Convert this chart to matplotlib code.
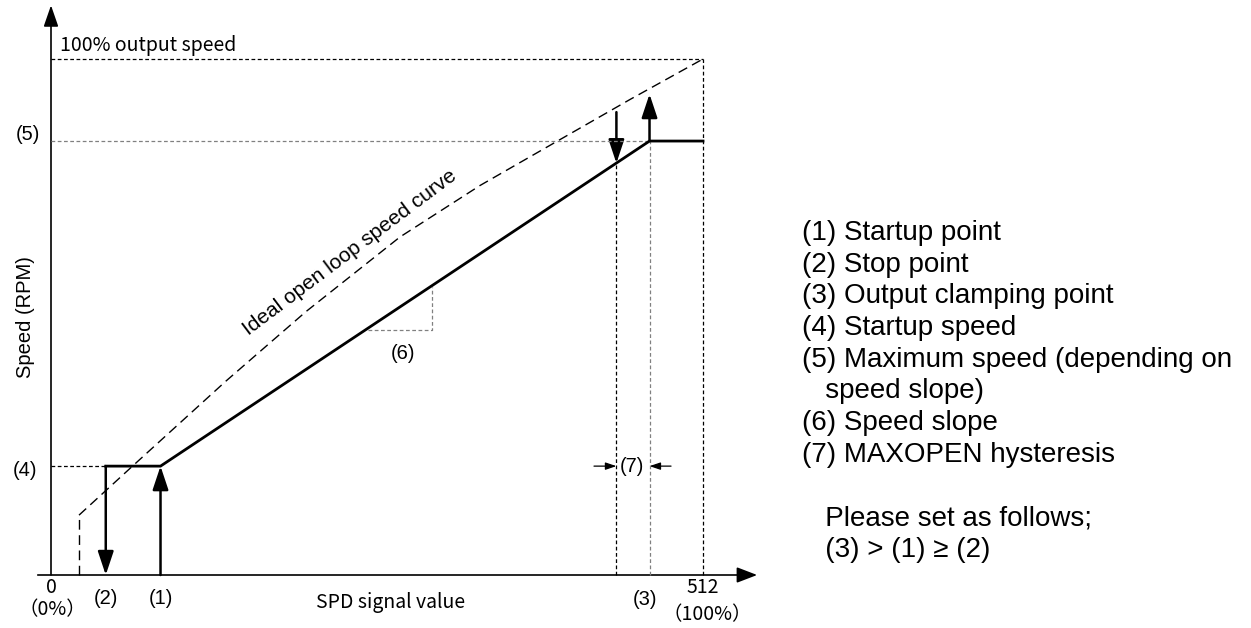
import matplotlib
matplotlib.use("Agg")
import matplotlib.pyplot as plt
from matplotlib.patches import FancyArrowPatch

# signal values (0..512) and speed levels (% of full output speed)
stop_x = 43        # (2)
start_x = 86       # (1)
hyst_x = 444       # clamp release
clamp_x = 470      # (3)
full_x = 512
startup_speed = 21.1   # (4)
max_speed = 84.1       # (5)
full_speed = 100
slope_at_hyst = 79.8
hyst_up_top = 93.2
hyst_down_top = 89.7

# ideal open loop curve
ideal_x = [22, 64, 137, 200, 274, 337, 397, 455, 512]
ideal_y = [11.6, 21.1, 37.5, 51.0, 65.5, 75.5, 84.0, 92.2, 100]

# slope triangle corners (6)
tri_x = [249, 299, 299]
tri_y = [47.5, 47.5, 55.9]

legend_lines = [
    "(1) Startup point",
    "(2) Stop point",
    "(3) Output clamping point",
    "(4) Startup speed",
    "(5) Maximum speed (depending on",
    "   speed slope)",
    "(6) Speed slope",
    "(7) MAXOPEN hysteresis",
    "",
    "   Please set as follows;",
    "   (3) > (1) \u2265 (2)",
]

W, H = 1251, 628
X0, XS = 51, 652 / 512
Y0, YS = 575, 516 / 100

fig = plt.figure(figsize=(W / 100, H / 100), dpi=100)
ax = fig.add_axes([0, 0, 1, 1])
ax.set_xlim(-X0 / XS, (W - X0) / XS)
ax.set_ylim(-(H - Y0) / YS, Y0 / YS)
ax.axis("off")

ARIAL = ["Liberation Sans", "DejaVu Sans"]
GOTHIC = ["Noto Sans CJK JP", "DejaVu Sans"]


def arrow(p0, p1, hl=14.4, hw=4.8, lw=1.8):
    style = f"-|>,head_length={hl},head_width={hw}"
    ax.add_patch(FancyArrowPatch(p0, p1, arrowstyle=style, mutation_scale=1,
                                 lw=lw, color="black", shrinkA=0, shrinkB=0))


guide = dict(lw=0.9, ls=(0, (3, 2)), color="black")
guide_g = dict(lw=0.9, ls=(0, (3, 2)), color="#808080")

# axes with arrows
arrow((-10.4, 0), (554.5, 0), hl=12.5, hw=4.8, lw=1.2)
arrow((0, 0), (0, 110.4), hl=13.0, hw=4.5, lw=1.2)

# guide lines
ax.plot([0, full_x], [full_speed, full_speed], **guide)
ax.plot([full_x, full_x], [0, full_speed], **guide)
ax.plot([0, clamp_x], [max_speed, max_speed], **guide_g)
ax.plot([clamp_x, clamp_x], [0, max_speed], **guide_g)
ax.plot([0, stop_x], [startup_speed, startup_speed], **guide)
ax.plot([hyst_x, hyst_x], [0, slope_at_hyst], **guide)
ax.plot(tri_x, tri_y, **guide_g)

# ideal curve
ax.plot([ideal_x[0], ideal_x[0]], [0, ideal_y[0]], color="black", lw=1.0,
        ls=(0, (7, 4)))
ax.plot(ideal_x, ideal_y, color="black", lw=1.0, ls=(0, (7, 4)))

# speed characteristic
ax.plot([stop_x, start_x, clamp_x, full_x],
        [startup_speed, startup_speed, max_speed, max_speed],
        color="black", lw=2.0, solid_joinstyle="miter")

# start / stop arrows
arrow((stop_x, startup_speed), (stop_x, 0))
arrow((start_x, 0), (start_x, startup_speed))
arrow((hyst_x, hyst_down_top), (hyst_x, slope_at_hyst))
arrow((clamp_x, max_speed), (clamp_x, hyst_up_top))

# hysteresis marker (7)
arrow((426.4, startup_speed), (hyst_x, startup_speed), hl=6.5, hw=2.2, lw=0.9)
arrow((486.9, startup_speed), (clamp_x, startup_speed), hl=6.5, hw=2.2, lw=0.9)

# labels
ax.text(7.1, 102.7, "100% output speed", family=GOTHIC, fontsize=14,
        ha="left", va="center")
ax.text(-8.6, 85.3, "(5)", family=ARIAL, fontsize=14.5, ha="right", va="center")
ax.text(-10.9, 20.3, "(4)", family=ARIAL, fontsize=14.5, ha="right", va="center")
ax.text(-20.4, 50, "Speed (RPM)", family=ARIAL, fontsize=14.5, rotation=90,
        ha="center", va="center")
ax.text(0, -2.5, "0", family=GOTHIC, fontsize=14, ha="center", va="center")
ax.text(0.8, -6.8, "\uff080%\uff09", family=GOTHIC, fontsize=14,
        ha="center", va="center")
ax.text(stop_x, -4.5, "(2)", family=ARIAL, fontsize=14.5, ha="center", va="center")
ax.text(start_x, -4.5, "(1)", family=ARIAL, fontsize=14.5, ha="center", va="center")
ax.text(267, -5.4, "SPD signal value", family=GOTHIC, fontsize=14,
        ha="center", va="center")
ax.text(466.5, -4.8, "(3)", family=ARIAL, fontsize=14.5, ha="center", va="center")
ax.text(full_x, -2.5, "512", family=GOTHIC, fontsize=14, ha="center", va="center")
ax.text(515, -7.75, "\uff08100%\uff09", family=GOTHIC, fontsize=14,
        ha="center", va="center")
ax.text(234.8, 62.4, "Ideal open loop speed curve", family=ARIAL, fontsize=15,
        rotation=37, rotation_mode="anchor", ha="center", va="center")
ax.text(276.4, 43.0, "(6)", family=ARIAL, fontsize=14.5, ha="center", va="center")
ax.text(456.3, startup_speed, "(7)", family=ARIAL, fontsize=14.5,
        ha="center", va="center")

# explanation list on the right
for i, line in enumerate(legend_lines):
    fig.text(802 / W, 1 - (233 + 31.7 * i) / H, line, family=ARIAL,
             fontsize=20, ha="left", va="center")

fig.savefig("out.png", dpi=100)
